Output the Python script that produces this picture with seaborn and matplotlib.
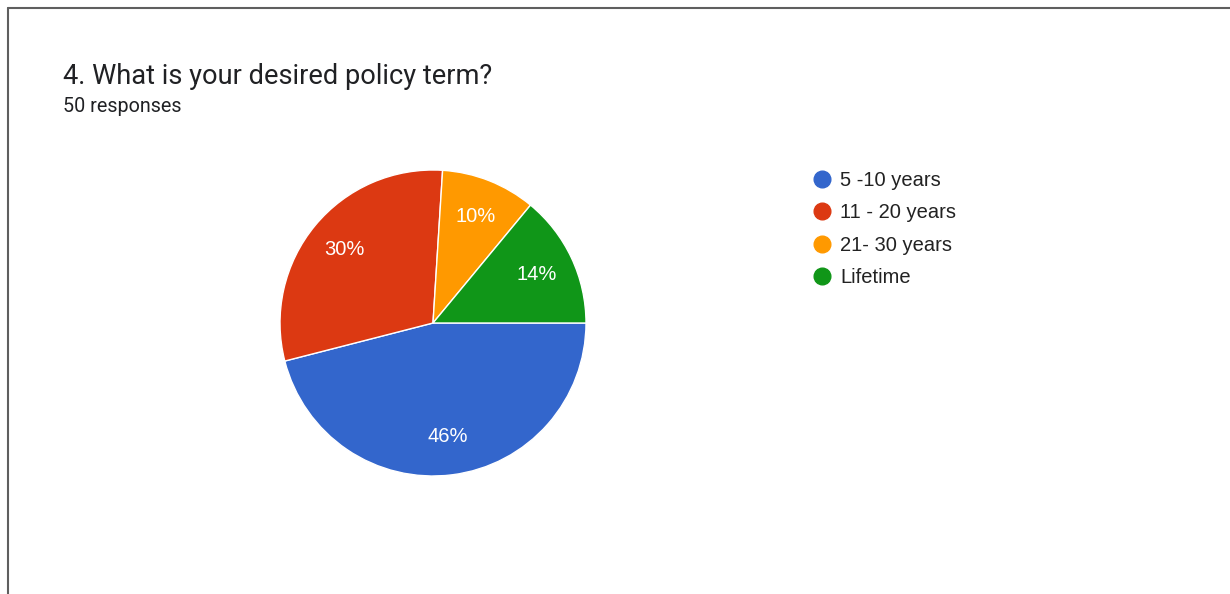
import matplotlib
matplotlib.use("Agg")
import matplotlib.pyplot as plt
from matplotlib.lines import Line2D
import seaborn as sns

# Data
categories = ["5 -10 years", "11 - 20 years", "21- 30 years", "Lifetime"]
percents = [46, 30, 10, 14]
colors = ["#3366cc", "#dc3912", "#ff9900", "#109618"]
title = "4. What is your desired policy term?"
subtitle = "50 responses"

sns.set_theme(style="white")
plt.rcParams["font.family"] = ["Roboto", "DejaVu Sans"]

W, H = 1230, 594
fig = plt.figure(figsize=(W / 100, H / 100), dpi=100)
fig.patch.set_facecolor("white")

# Pie axes in pixel geometry
cx, cy, r = 433, 323, 153
ax = fig.add_axes([(cx - r) / W, (H - cy - r) / H, 2 * r / W, 2 * r / H])
wedges, texts, autotexts = ax.pie(
    percents,
    colors=colors,
    startangle=0,
    counterclock=False,
    autopct=lambda p: f"{p:.0f}%",
    pctdistance=0.75,
    wedgeprops=dict(edgecolor="white", linewidth=1),
    textprops=dict(color="white", fontsize=14.5,
                   family=["Liberation Sans", "DejaVu Sans"]),
    radius=1.0,
)
ax.set_aspect("equal")
ax.set_xlim(-1, 1)
ax.set_ylim(-1, 1)
ax.axis("off")

# Title and subtitle
fig.text(63 / W, 1 - 77 / H, title, fontsize=19.6, color="#202124", va="center", ha="left")
fig.text(63 / W, 1 - 106 / H, subtitle, fontsize=14.2, color="#202124", va="center", ha="left")

# Legend
handles = [Line2D([0], [0], marker="o", linestyle="none", markersize=12,
                  markerfacecolor=c, markeredgecolor=c) for c in colors]
leg = fig.legend(handles, categories, loc="upper left",
                 bbox_to_anchor=(812 / W, 1 - 171 / H), frameon=False,
                 prop=dict(family=["Liberation Sans", "DejaVu Sans"], size=14.5),
                 handletextpad=0.4, labelspacing=0.66,
                 handlelength=1.0, borderpad=0, borderaxespad=0)
for t in leg.get_texts():
    t.set_color("#222222")

# Border lines (left and top)
fig.add_artist(Line2D([8 / W, 8 / W], [0, 1 - 8 / H], color="#5f5f5f", lw=1.5,
                      transform=fig.transFigure))
fig.add_artist(Line2D([8 / W, 1], [1 - 8 / H, 1 - 8 / H], color="#5f5f5f", lw=1.5,
                      transform=fig.transFigure))

fig.savefig("out.png", dpi=100, facecolor="white")
